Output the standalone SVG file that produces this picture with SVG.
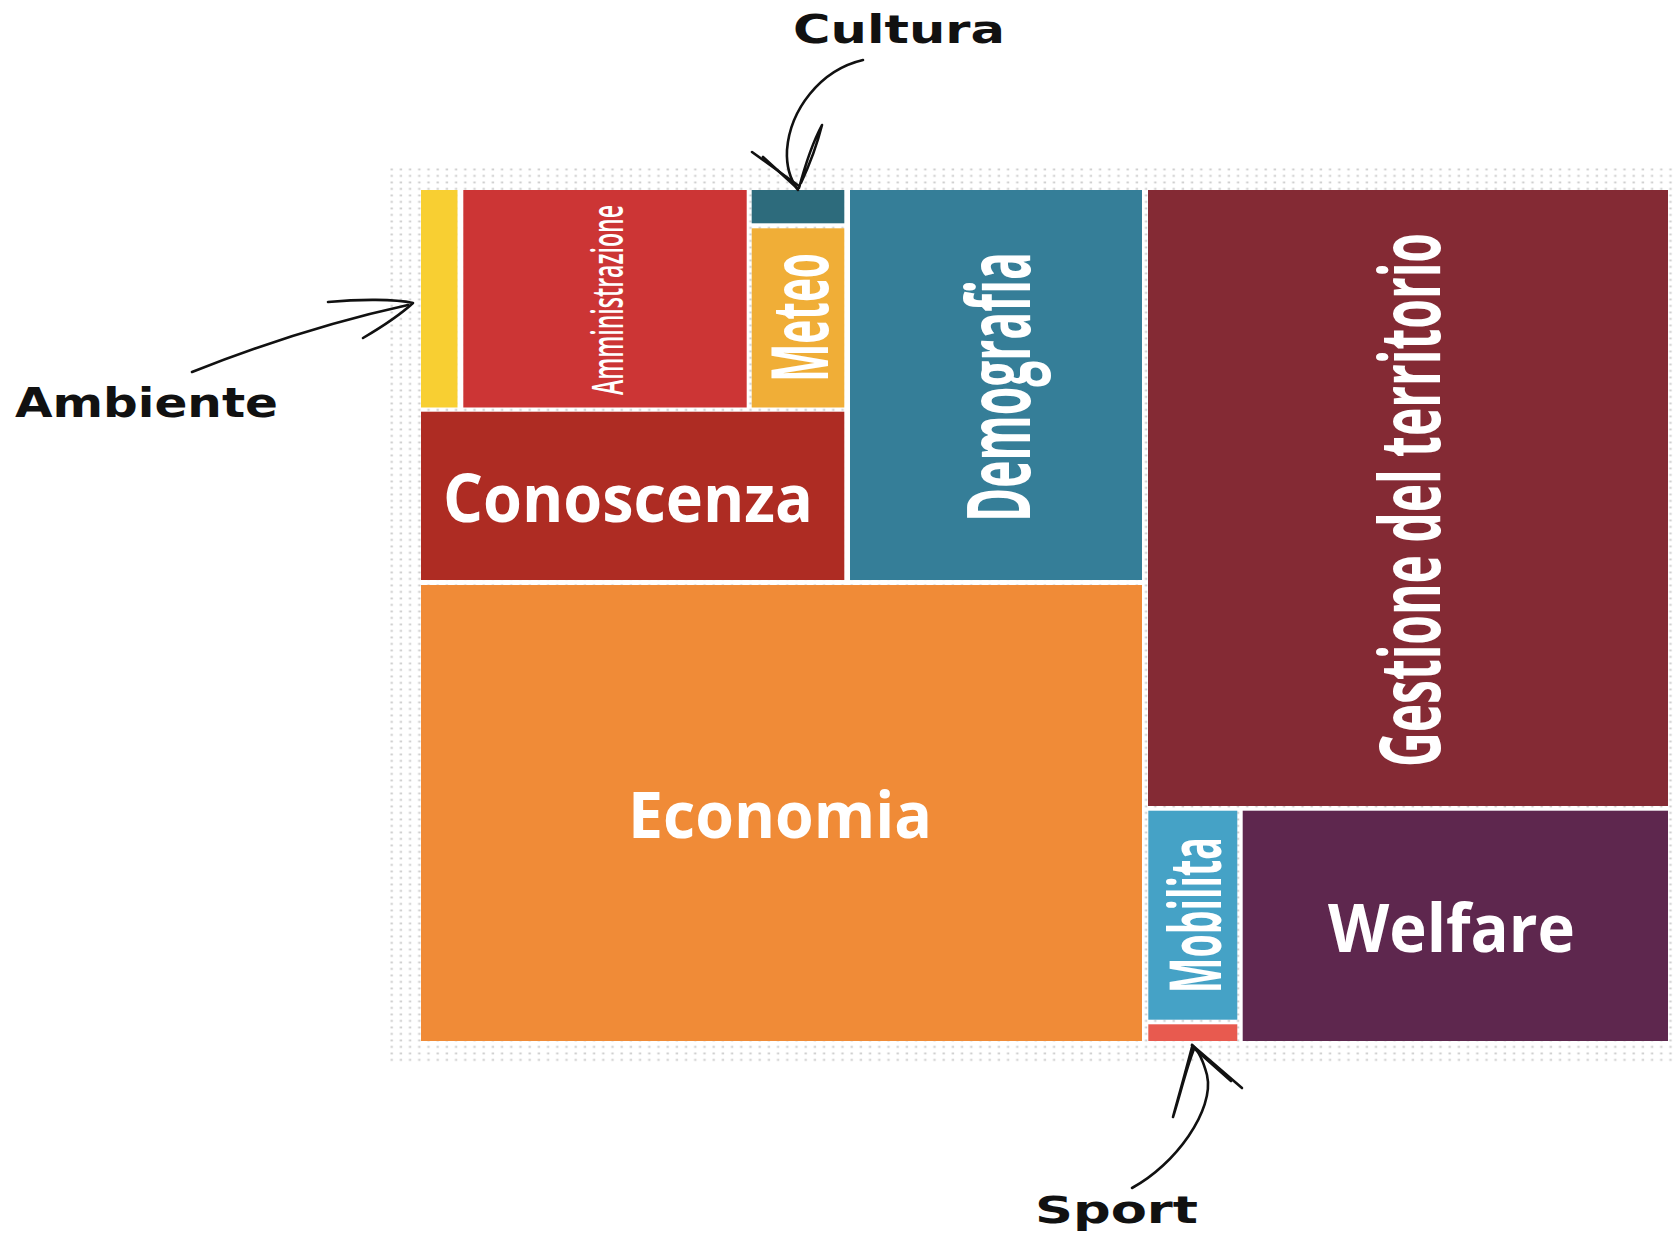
<svg xmlns="http://www.w3.org/2000/svg" width="1678" height="1235" viewBox="0 0 1678 1235">
<defs>
<pattern id="dots" patternUnits="userSpaceOnUse" x="390" y="168" width="9.2" height="6.5">
<rect x="0.5" y="0.5" width="2.4" height="1.8" fill="#cdcdcd"/>
</pattern>
<style>
.lbl{fill:#ffffff;font-family:"Open Sans","Noto Sans","Liberation Sans",sans-serif;font-weight:700;text-anchor:middle}
.ann{fill:#111111;font-family:"DejaVu Sans","Liberation Sans",sans-serif;font-weight:700}
.pen{fill:none;stroke:#111111;stroke-width:2.6;stroke-linecap:round;stroke-linejoin:round}
</style>
</defs>
<rect width="1678" height="1235" fill="#ffffff"/>
<rect x="390" y="168" width="1288" height="896" fill="url(#dots)"/>

<g id="ambiente"><rect x="421" y="190" width="36.5" height="217.5" fill="#f8cf32"/></g>
<g id="amministrazione"><rect x="463.3" y="190" width="283.4" height="217.5" fill="#cc3535"/>
<text class="lbl" style="font-weight:600" font-size="43" textLength="190" lengthAdjust="spacingAndGlyphs" transform="translate(623,300) rotate(-90)">Amministrazione</text></g>
<g id="cultura"><rect x="751.7" y="190" width="92.6" height="33.3" fill="#2d6b7c"/></g>
<g id="meteo"><rect x="751.7" y="228.3" width="92.6" height="179.2" fill="#f0ae37"/>
<text class="lbl" font-size="78" textLength="129" lengthAdjust="spacingAndGlyphs" transform="translate(828,317.5) rotate(-90)">Meteo</text></g>
<g id="conoscenza"><rect x="421" y="411.7" width="423.3" height="168.3" fill="#ae2c23"/>
<text class="lbl" font-size="66" textLength="370" lengthAdjust="spacingAndGlyphs" x="628" y="522">Conoscenza</text></g>
<g id="demografia"><rect x="850" y="190" width="292" height="390" fill="#357e98"/>
<text class="lbl" font-size="88" textLength="270" lengthAdjust="spacingAndGlyphs" transform="translate(1030,387) rotate(-90)">Demografia</text></g>
<g id="economia"><rect x="421" y="585" width="721" height="456" fill="#f08b37"/>
<text class="lbl" font-size="64" textLength="304" lengthAdjust="spacingAndGlyphs" x="780" y="838">Economia</text></g>
<g id="gestione"><rect x="1148" y="190" width="520" height="616" fill="#842a34"/>
<text class="lbl" font-size="84" textLength="534" lengthAdjust="spacingAndGlyphs" transform="translate(1440,500) rotate(-90)">Gestione del territorio</text></g>
<g id="mobilita"><rect x="1148.3" y="810.7" width="89" height="209" fill="#45a2c6"/>
<text class="lbl" font-size="71" textLength="156" lengthAdjust="spacingAndGlyphs" transform="translate(1221,915) rotate(-90)">Mobilita</text></g>
<g id="sport"><rect x="1148.3" y="1024.3" width="89" height="16.7" fill="#e85a4f"/></g>
<g id="welfare"><rect x="1242.7" y="810.7" width="425.3" height="230.3" fill="#5e274e"/>
<text class="lbl" font-size="66" textLength="247" lengthAdjust="spacingAndGlyphs" x="1451.5" y="952">Welfare</text></g>

<g id="annotations">
<text class="ann" font-size="39" textLength="212" lengthAdjust="spacingAndGlyphs" x="793" y="43">Cultura</text>
<text class="ann" font-size="41" textLength="263" lengthAdjust="spacingAndGlyphs" x="15" y="417">Ambiente</text>
<text class="ann" font-size="37" textLength="163" lengthAdjust="spacingAndGlyphs" x="1035" y="1223">Sport</text>
</g>

<g id="connectors">
<path class="pen" d="M863,60 C820,70 790,110 787,150 C786,170 792,182 798,190"/>
<path class="pen" d="M752,152 L799,186"/>
<path class="pen" stroke-width="3.4" d="M763,157 L797,188"/>
<path class="pen" d="M799,188 C806,162 815,138 822,125 C817,145 808,168 801,183"/>
<path class="pen" stroke-width="3" d="M192,372 C260,345 330,322 408,305"/>
<path class="pen" stroke-width="3.2" d="M328,302 C360,299 395,299 413,303 C400,315 380,328 363,338"/>
<path class="pen" d="M1132,1188 C1175,1165 1215,1110 1207,1075 C1203,1060 1198,1050 1192,1045"/>
<path class="pen" d="M1192,1045 L1242,1088"/>
<path class="pen" stroke-width="3.4" d="M1196,1050 L1231,1081"/>
<path class="pen" stroke-width="3" d="M1192,1047 C1186,1070 1179,1095 1173,1117 C1180,1095 1187,1066 1194,1049"/>
</g>
</svg>
